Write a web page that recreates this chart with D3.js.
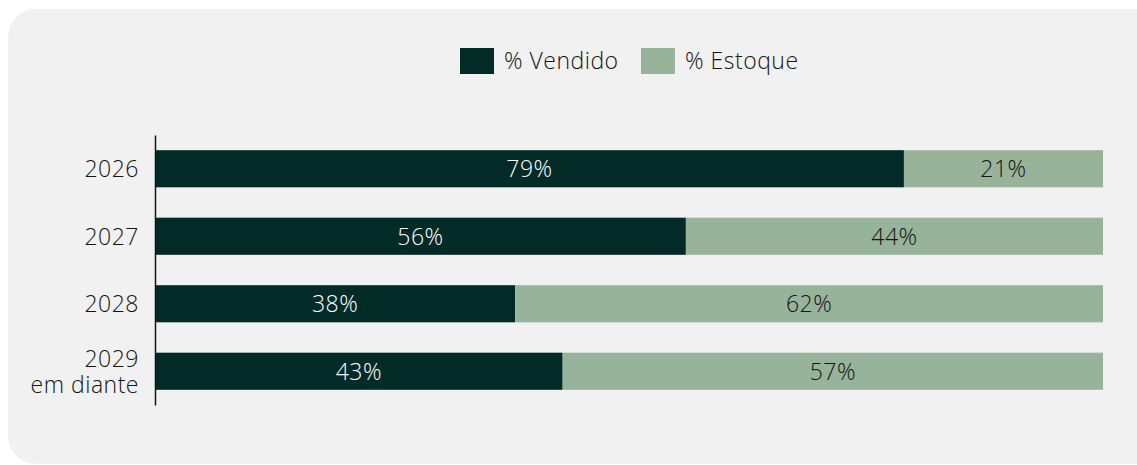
<!DOCTYPE html>
<html>
<head>
<meta charset="utf-8">
<script src="https://cdn.jsdelivr.net/npm/d3@7"></script>
<style>
  body { margin: 0; background: #ffffff; }
  text { font-family: "Open Sans", "Lato", sans-serif; font-weight: 300; letter-spacing: 0.5px; }
</style>
</head>
<body>
<div id="chart"></div>
<script>
// Vendido x Estoque by year of delivery
var categories = ["2026", "2027", "2028", "2029\nem diante"];
var vendido = [79, 56, 38, 43];
var estoque = [21, 44, 62, 57];
var seriesNames = ["% Vendido", "% Estoque"];

var width = 1137, height = 465;
var DARK = '#022b27';
var LIGHT = '#97b39a';
var BG = '#f1f1f1';
var TEXT_COLOR = '#141414';
var FONT_SIZE = '23px';

var svg = d3.select("#chart").append("svg")
  .attr("width", width)
  .attr("height", height);

svg.append("rect")
  .attr("x", 8).attr("y", 9)
  .attr("width", width - 8 + 30).attr("height", 455)
  .attr("rx", 28)
  .attr("fill", BG);

var x = d3.scaleLinear().domain([0, 100]).range([155, 1103]);
var y = d3.scaleBand().domain(categories).range([135, 405])
  .paddingInner(0.45).paddingOuter(0.225);

var rows = categories.map(function(c, i) {
  return { cat: c, vendido: vendido[i], estoque: estoque[i] };
});

var g = svg.append("g");

// vendido bars
g.selectAll("rect.vend")
  .data(rows)
  .enter()
  .append("rect")
  .attr("class", "vend")
  .attr("x", x(0))
  .attr("y", function(d) { return y(d.cat); })
  .attr("width", function(d) { return x(d.vendido) - x(0); })
  .attr("height", y.bandwidth())
  .attr("fill", DARK);

// estoque bars
g.selectAll("rect.est")
  .data(rows)
  .enter()
  .append("rect")
  .attr("class", "est")
  .attr("x", function(d) { return x(d.vendido); })
  .attr("y", function(d) { return y(d.cat); })
  .attr("width", function(d) { return x(d.vendido + d.estoque) - x(d.vendido); })
  .attr("height", y.bandwidth())
  .attr("fill", LIGHT);

// labels inside bars
g.selectAll("text.vl")
  .data(rows)
  .enter()
  .append("text")
  .attr("x", function(d) { return (x(0) + x(d.vendido)) / 2; })
  .attr("y", function(d) { return y(d.cat) + y.bandwidth() / 2; })
  .attr("dy", "0.36em")
  .attr("text-anchor", "middle")
  .attr("font-size", FONT_SIZE)
  .attr("fill", "#ffffff")
  .text(function(d) { return d.vendido + "%"; });

g.selectAll("text.el")
  .data(rows)
  .enter()
  .append("text")
  .attr("x", function(d) { return (x(d.vendido) + x(d.vendido + d.estoque)) / 2; })
  .attr("y", function(d) { return y(d.cat) + y.bandwidth() / 2; })
  .attr("dy", "0.36em")
  .attr("text-anchor", "middle")
  .attr("font-size", FONT_SIZE)
  .attr("fill", TEXT_COLOR)
  .text(function(d) { return d.estoque + "%"; });

// y axis
var yAxis = svg.append("g")
  .attr("transform", "translate(155,0)")
  .call(d3.axisLeft(y).tickSize(0).tickPadding(17).tickFormat(""));
yAxis.select(".domain").attr("stroke", TEXT_COLOR).attr("stroke-width", 1.5);

// multi-line tick labels, one text element per line
yAxis.selectAll(".tick").each(function(d) {
  var lines = d.split("\n");
  var tick = d3.select(this);
  lines.forEach(function(l, i) {
    tick.append("text")
      .attr("x", -16)
      .attr("y", (i - (lines.length - 1) / 2) * 26)
      .attr("dy", "0.36em")
      .attr("fill", TEXT_COLOR)
      .attr("font-size", FONT_SIZE)
      .attr("text-anchor", "end")
      .text(l);
  });
});

// legend
var legend = svg.append("g");
var legendItems = [
  { name: seriesNames[0], color: DARK, x: 460 },
  { name: seriesNames[1], color: LIGHT, x: 641 }
];
legend.selectAll("rect")
  .data(legendItems)
  .enter()
  .append("rect")
  .attr("x", function(d) { return d.x; })
  .attr("y", 48)
  .attr("width", 34)
  .attr("height", 26)
  .attr("fill", function(d) { return d.color; });
legend.selectAll("text")
  .data(legendItems)
  .enter()
  .append("text")
  .attr("x", function(d) { return d.x + 44; })
  .attr("y", 61)
  .attr("dy", "0.36em")
  .attr("font-size", FONT_SIZE)
  .attr("fill", TEXT_COLOR)
  .text(function(d) { return d.name; });
</script>
</body>
</html>
